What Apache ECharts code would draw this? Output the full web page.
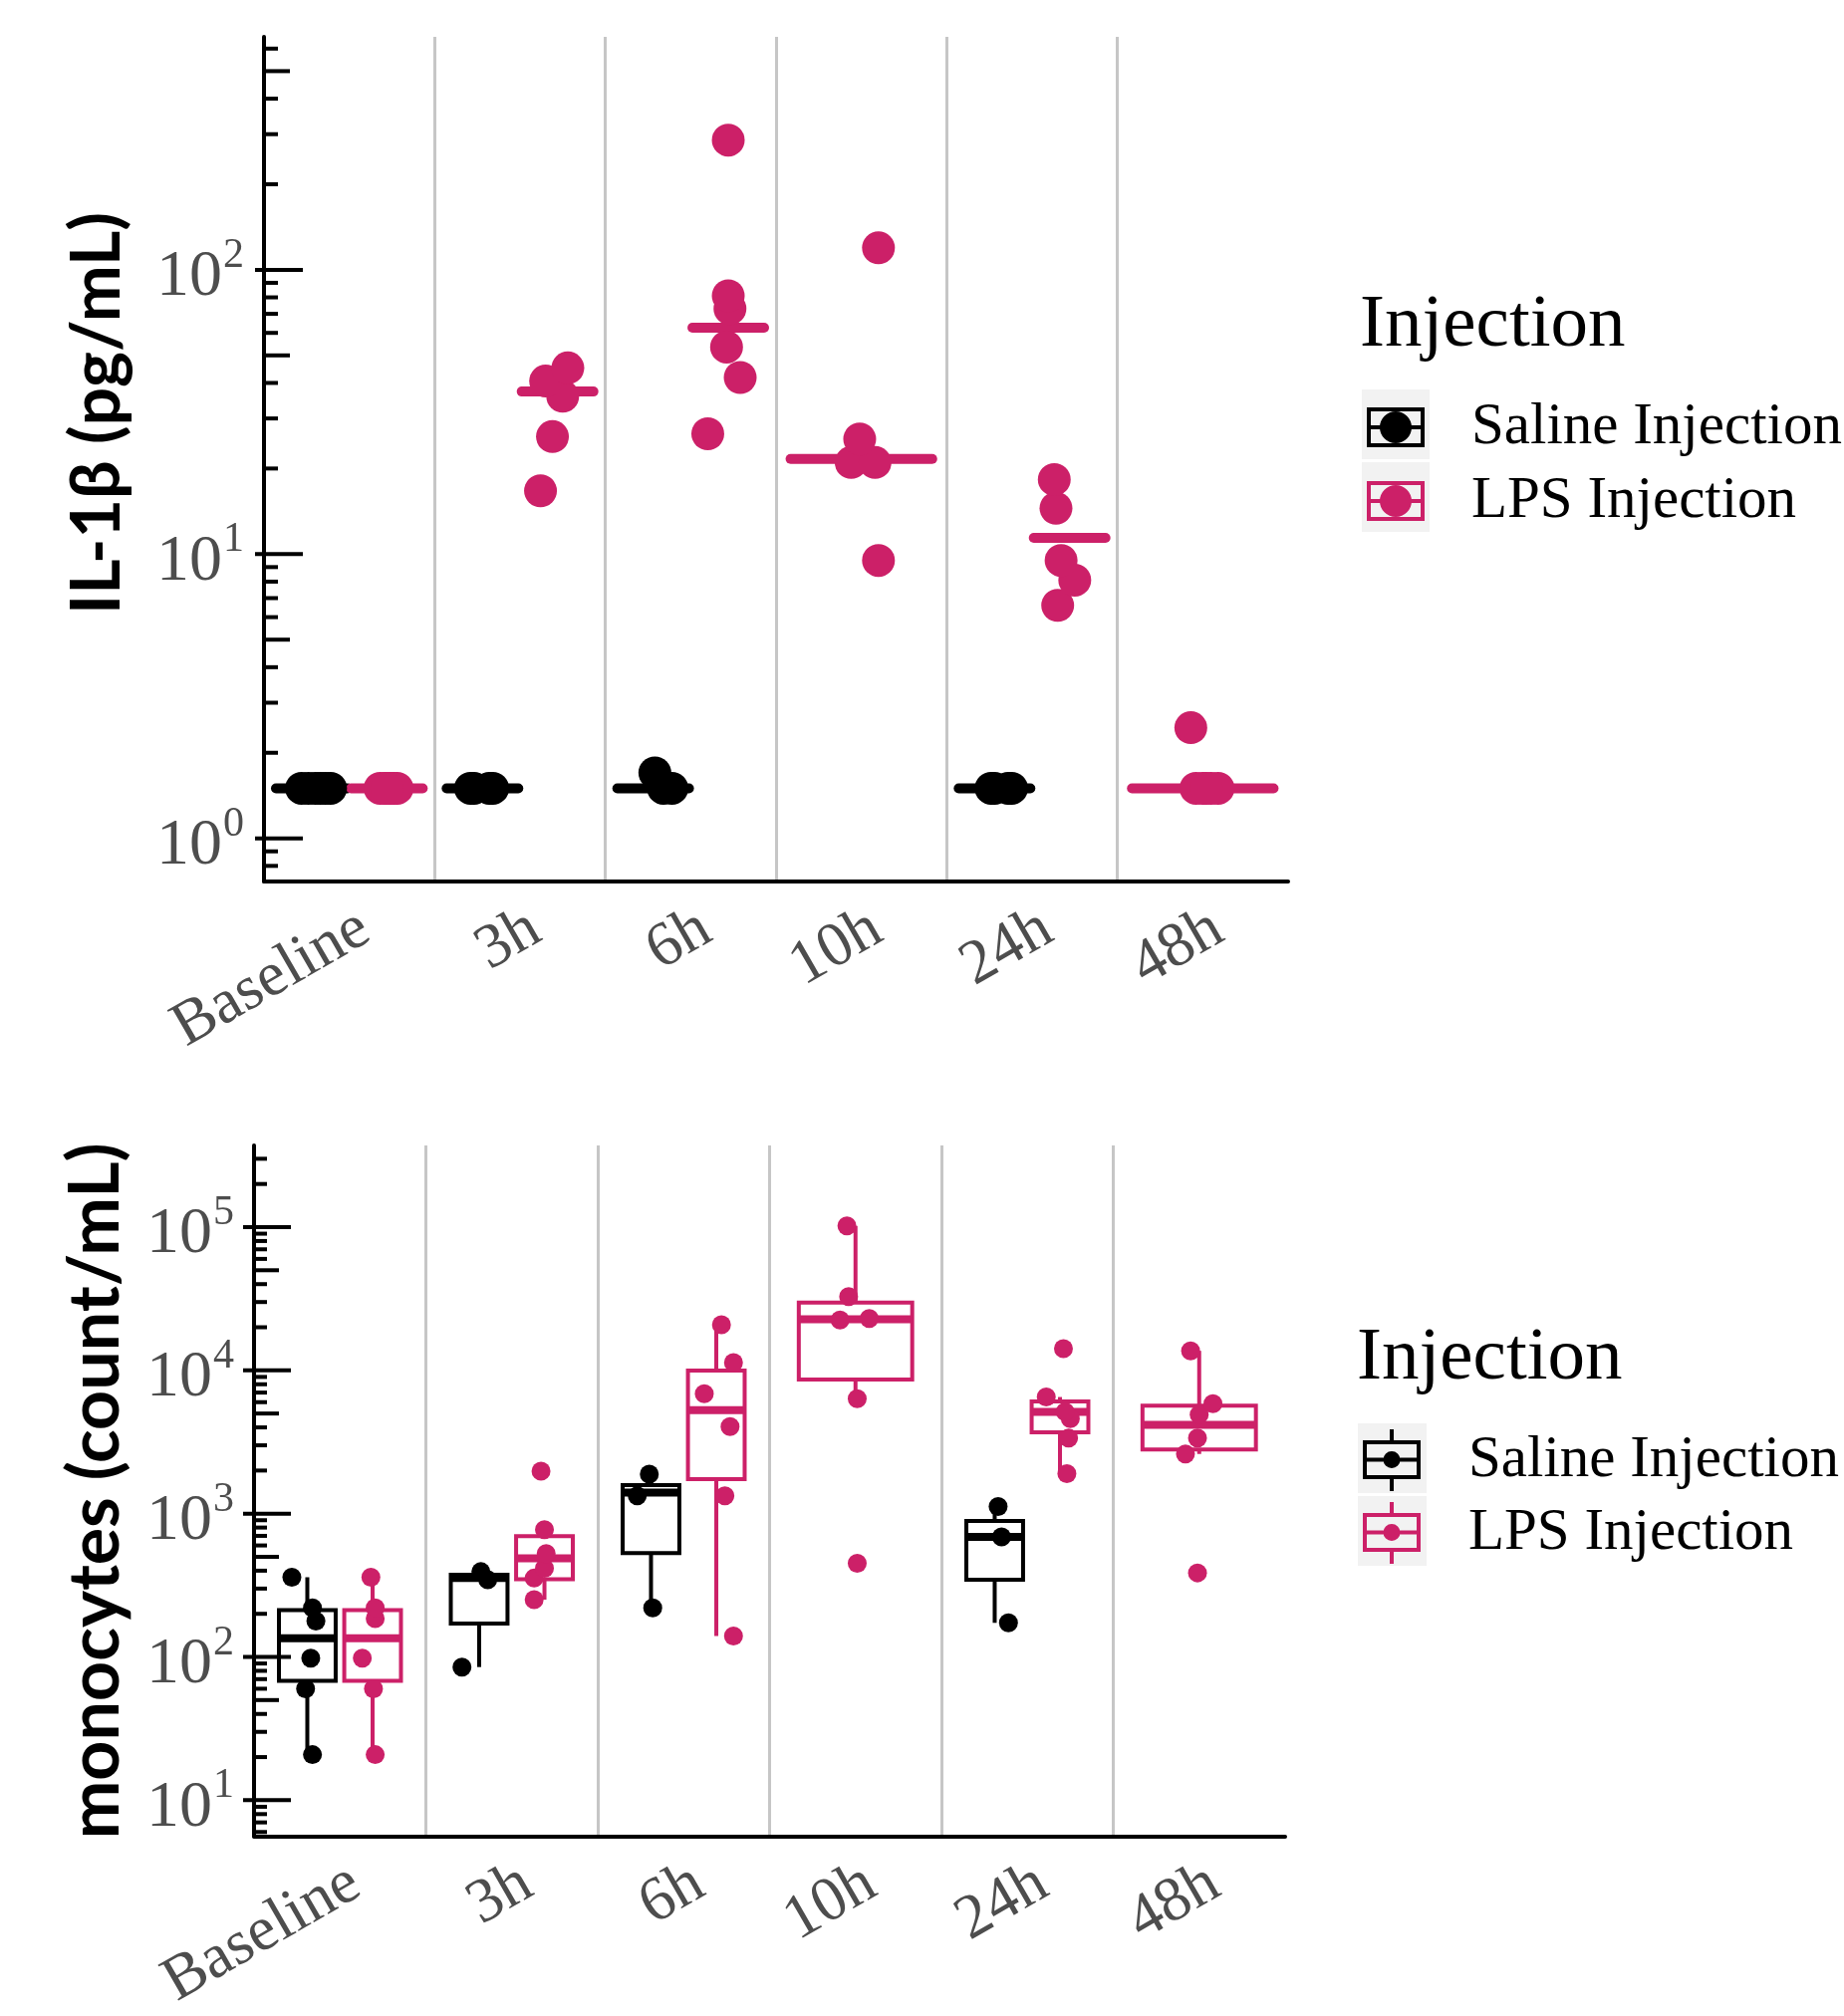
<!DOCTYPE html>
<html lang="en">
<head>
<meta charset="UTF-8">
<title>IL-1β and monocytes after injection</title>
<script src="https://cdn.jsdelivr.net/npm/echarts@6/dist/echarts.min.js"></script>
<style>
  html, body { margin: 0; padding: 0; background: #fff; }
</style>
</head>
<body>
<div id="main" style="width:1851px;height:2024px;"></div>
<script>
  const categories = ['Baseline', '3h', '6h', '10h', '24h', '48h'];
  const groups = ['Saline Injection', 'LPS Injection'];

  // IL-1β (pg/mL), one list per time point
  const ilSaline = [
    [1.5, 1.5, 1.5, 1.5, 1.5, 1.5],
    [1.5, 1.5, 1.5, 1.5],
    [1.5, 1.5, 1.7],
    [],
    [1.5, 1.5, 1.5, 1.5],
    []
  ];
  const ilSalineJitter = [
    [-0.06, -0.02, 0.02, 0.05, 0.08, 0.11],
    [-0.07, -0.05, 0.04, 0.06],
    [0.06, 0.11, 0.01],
    [],
    [-0.02, 0.0, 0.08, 0.1],
    []
  ];
  const ilLps = [
    [1.5, 1.5, 1.5, 1.5, 1.5, 1.5],
    [16.7, 25.9, 35.9, 40.6, 45.2],
    [26.5, 41.8, 53.5, 73, 81, 286],
    [9.5, 21, 21, 25.4, 119.5],
    [6.6, 8.1, 9.5, 14.5, 18.3],
    [1.5, 1.5, 1.5, 1.5, 1.5, 2.45]
  ];
  const ilLpsJitter = [
    [-0.04, -0.01, 0.02, 0.04, 0.06, 0.0],
    [-0.1, -0.03, 0.03, -0.07, 0.06],
    [-0.12, 0.07, -0.01, 0.01, 0.0, 0.0],
    [0.1, -0.06, 0.08, -0.01, 0.1],
    [-0.07, 0.03, -0.05, -0.08, -0.09],
    [-0.04, 0.0, 0.05, 0.09, 0.02, -0.07]
  ];
  const ilSalineMedian = [1.5, 1.5, 1.5, null, 1.5, null];
  const ilLpsMedian = [1.5, 37.3, 62.6, 21.6, 11.4, 1.5];

  // monocytes (count/mL)
  const moSaline = [
    [20.8, 60, 98, 178, 220, 360],
    [85, 346, 394],
    [220, 1333, 1885],
    [],
    [173, 689, 1122],
    []
  ];
  const moSalineJitter = [
    [0.03, -0.01, 0.02, 0.05, 0.03, -0.09],
    [-0.1, 0.05, 0.01],
    [0.01, -0.08, -0.01],
    [],
    [0.08, 0.04, 0.02],
    []
  ];
  const moLps = [
    [20.8, 60, 98, 185, 220, 360],
    [251, 355, 416, 527, 773, 1980],
    [140, 1334, 4050, 6870, 11350, 20800],
    [451, 6340, 22500, 23000, 32700, 102000],
    [1900, 3370, 4600, 5140, 6520, 14200],
    [386, 2610, 3370, 4920, 5860, 13700]
  ];
  const moLpsJitter = [
    [0.015, 0.005, -0.06, 0.015, 0.015, -0.01],
    [-0.06, -0.06, 0.0, 0.01, 0.0, -0.02],
    [0.1, 0.05, 0.08, -0.07, 0.1, 0.03],
    [0.01, 0.01, -0.09, 0.08, -0.04, -0.05],
    [0.04, 0.05, 0.06, 0.03, -0.08, 0.02],
    [-0.01, -0.08, -0.01, 0.0, 0.08, -0.05]
  ];
  // [lower whisker, Q1, median, Q3, upper whisker]
  const moSalineBox = [
    [20.8, 68, 135, 212, 360],
    [85, 171, 355, 374, 394],
    [220, 530, 1406, 1580, 1885],
    null,
    [173, 346, 689, 888, 1122],
    null
  ];
  const moLpsBox = [
    [20.8, 68, 135, 212, 360],
    [251, 349, 488, 698, 773],
    [140, 1740, 5270, 9960, 20800],
    [6340, 8630, 22700, 29700, 102000],
    [1900, 3700, 5140, 6080, 6520],
    [2610, 2800, 4160, 5670, 13700]
  ];

  const ilRange = [0.705, 660];
  const moRange = [5.61, 371500];

  const pink = '#cc2068';
  const labelGrey = '#4d4d4d';
  const serif = "'Liberation Serif', 'Times New Roman', serif";
  const sansBold = "Lato, 'Noto Sans', sans-serif";

  function logTicks(range) {
    const out = [];
    const e0 = Math.floor(Math.log10(range[0]));
    const e1 = Math.ceil(Math.log10(range[1]));
    for (let e = e0; e <= e1; e++) {
      for (let m = 1; m <= 9; m++) {
        const v = m * Math.pow(10, e);
        if (v >= range[0] && v <= range[1]) out.push([-0.5, v, m]);
      }
    }
    return out;
  }

  const ilPair = categories.map((c, i) => ilSaline[i].length > 0 && ilLps[i].length > 0);
  const moPair = categories.map((c, i) => moSaline[i].length > 0 && moLps[i].length > 0);

  function pointData(vals, jit, pair, side, dodge) {
    const out = [];
    vals.forEach((list, i) => {
      const c = pair[i] ? i + side * dodge : i;
      list.forEach((v, k) => out.push([c + jit[i][k], v]));
    });
    return out;
  }

  function tickSeries(xi, yi, range, lens) {
    return {
      type: 'custom', xAxisIndex: xi, yAxisIndex: yi, silent: true, clip: false, z: 6,
      data: logTicks(range),
      renderItem: (params, api) => {
        const p = api.coord([-0.5, api.value(1)]);
        const m = api.value(2);
        let inner = lens[2], outer = 0;
        if (m === 1) { inner = lens[0]; outer = lens[3]; }
        else if (m === 5) inner = lens[1];
        return {
          type: 'line',
          shape: { x1: p[0] - outer, y1: p[1], x2: p[0] + inner, y2: p[1] },
          style: { stroke: '#000', lineWidth: 4 }
        };
      }
    };
  }

  function medianSeries(name, color, medians, side) {
    const data = [];
    medians.forEach((m, i) => {
      if (m == null) return;
      data.push(ilPair[i] ? [i + side * 0.22, m, 0.21] : [i, m, 0.415]);
    });
    return {
      name, type: 'custom', xAxisIndex: 1, yAxisIndex: 0, silent: true, z: 2,
      itemStyle: { color },
      data,
      renderItem: (params, api) => {
        const c = api.value(0), hw = api.value(2);
        const a = api.coord([c - hw, api.value(1)]);
        const b = api.coord([c + hw, api.value(1)]);
        return {
          type: 'line',
          shape: { x1: a[0], y1: a[1], x2: b[0], y2: b[1] },
          style: { stroke: color, lineWidth: 10, lineCap: 'round' }
        };
      }
    };
  }

  function boxSeries(name, color, boxes, side) {
    const data = [];
    boxes.forEach((b, i) => {
      if (!b) return;
      data.push(moPair[i] ? [i + side * 0.19].concat(b, [0.165]) : [i].concat(b, [0.33]));
    });
    return {
      name, type: 'custom', xAxisIndex: 3, yAxisIndex: 1, silent: true, z: 2,
      itemStyle: { color },
      data,
      renderItem: (params, api) => {
        const c = api.value(0), hw = api.value(6);
        const lo = api.coord([c, api.value(1)]);
        const q1 = api.coord([c, api.value(2)]);
        const md = api.coord([c, api.value(3)]);
        const q3 = api.coord([c, api.value(4)]);
        const hi = api.coord([c, api.value(5)]);
        const xl = api.coord([c - hw, api.value(3)])[0];
        const xr = api.coord([c + hw, api.value(3)])[0];
        const line = { stroke: color, lineWidth: 4 };
        return {
          type: 'group',
          children: [
            { type: 'line', shape: { x1: lo[0], y1: lo[1], x2: q1[0], y2: q1[1] }, style: line },
            { type: 'line', shape: { x1: q3[0], y1: q3[1], x2: hi[0], y2: hi[1] }, style: line },
            { type: 'rect', shape: { x: xl, y: q3[1], width: xr - xl, height: q1[1] - q3[1] },
              style: { fill: 'none', stroke: color, lineWidth: 4 } },
            { type: 'line', shape: { x1: xl, y1: md[1], x2: xr, y2: md[1] },
              style: { stroke: color, lineWidth: 8 } }
          ]
        };
      }
    };
  }

  function pointSeries(name, color, xi, yi, size, data) {
    return {
      name, type: 'scatter', xAxisIndex: xi, yAxisIndex: yi, symbolSize: size, z: 3,
      silent: true, itemStyle: { color, opacity: 1 }, data
    };
  }

  function powLabel(v) {
    const l = Math.log10(v);
    const e = Math.round(l);
    if (Math.abs(l - e) > 1e-6) return '';
    return '{b|10}{s|' + e + '}';
  }

  const powRich = {
    b: { fontFamily: serif, fontSize: 66, color: labelGrey, lineHeight: 62, padding: [16, 0, 0, 0] },
    s: { fontFamily: serif, fontSize: 42, color: labelGrey, lineHeight: 40, padding: [0, 0, 28, 1] }
  };

  function catAxis(gi) {
    return {
      gridIndex: gi, type: 'category', data: categories, boundaryGap: true,
      axisLine: { onZero: false, lineStyle: { color: '#000', width: 4 } },
      axisTick: { alignWithLabel: true, length: 12, lineStyle: { color: '#000', width: 4 } },
      axisLabel: {
        interval: 0, rotate: 30, margin: 16, verticalAlign: 'top',
        fontFamily: serif, fontSize: 63, color: labelGrey
      },
      splitLine: { show: true, showMinLine: false, showMaxLine: false,
        lineStyle: { color: '#c6c6c6', width: 3 } }
    };
  }

  function logAxis(gi, range, name, gap, size, pad) {
    return {
      gridIndex: gi, type: 'log', logBase: 10, min: range[0], max: range[1],
      axisLine: { show: true, onZero: false, lineStyle: { color: '#000', width: 4 } },
      axisTick: { show: false },
      splitLine: { show: false },
      axisLabel: { margin: 20, formatter: powLabel, rich: powRich },
      name, nameLocation: 'middle', nameGap: gap,
      nameTextStyle: { fontFamily: sansBold, fontWeight: 'bold', fontSize: size, color: '#000', padding: pad }
    };
  }

  const dotIcon = 'path://M0 0H58V40H0Z M4 4V36H54V4Z M4 18H54V22H4Z M13 20A16 16 0 1 1 45 20A16 16 0 1 1 13 20Z';
  const boxIcon = 'path://M27 0H31V11H27Z M0 11H58V50H0Z M4 15V46H54V15Z M4 28.5H54V32.5H4Z M27 50H31V62H27Z ' +
    'M20.5 30.5A8.5 8.5 0 1 1 37.5 30.5A8.5 8.5 0 1 1 20.5 30.5Z';

  function legendFor(top, left, icon, iw, ih, textPad, gap) {
    return {
      orient: 'vertical', left, top, padding: 0, itemGap: gap,
      itemWidth: iw, itemHeight: ih,
      textStyle: { fontFamily: serif, fontSize: 59, color: '#000', lineHeight: 72, padding: [0, 0, 0, textPad] },
      data: [
        { name: groups[0], icon, itemStyle: { color: '#000', borderWidth: 0 } },
        { name: groups[1], icon, itemStyle: { color: pink, borderWidth: 0 } }
      ]
    };
  }

  const myChart = echarts.init(document.getElementById('main'));
  const option = {
    animation: false,
    backgroundColor: '#fff',
    title: [
      { text: 'Injection', left: 1365, top: 290, padding: 0,
        textStyle: { fontFamily: serif, fontSize: 75, fontWeight: 'normal', color: '#000' } },
      { text: 'Injection', left: 1362, top: 1327, padding: 0,
        textStyle: { fontFamily: serif, fontSize: 75, fontWeight: 'normal', color: '#000' } }
    ],
    legend: [
      legendFor(393, 1372, dotIcon, 58, 40, 42, 2),
      legendFor(1430, 1368, boxIcon, 58, 62, 43, 1)
    ],
    graphic: [
      { type: 'rect', z: 0, shape: { x: 1367, y: 391, width: 68, height: 70 }, style: { fill: '#f2f2f2' } },
      { type: 'rect', z: 0, shape: { x: 1367, y: 464, width: 68, height: 70 }, style: { fill: '#f2f2f2' } },
      { type: 'rect', z: 0, shape: { x: 1363, y: 1429, width: 69, height: 70 }, style: { fill: '#f2f2f2' } },
      { type: 'rect', z: 0, shape: { x: 1363, y: 1502, width: 69, height: 70 }, style: { fill: '#f2f2f2' } }
    ],
    grid: [
      { left: 265, top: 37, width: 1028, height: 848 },
      { left: 255, top: 1150, width: 1035, height: 700 }
    ],
    xAxis: [
      catAxis(0),
      { gridIndex: 0, type: 'value', min: -0.5, max: 5.5, show: false },
      catAxis(1),
      { gridIndex: 1, type: 'value', min: -0.5, max: 5.5, show: false }
    ],
    yAxis: [
      logAxis(0, ilRange, 'IL-1β (pg/mL)', 133, 68, [0, 0, 0, 92]),
      logAxis(1, moRange, 'monocytes (count/mL)', 124, 70, 0)
    ],
    series: [
      tickSeries(1, 0, ilRange, [39, 26, 14, 9]),
      tickSeries(3, 1, moRange, [37, 25, 13, 11]),
      medianSeries(groups[0], '#000', ilSalineMedian, -1),
      medianSeries(groups[1], pink, ilLpsMedian, 1),
      pointSeries(groups[0], '#000', 1, 0, 33, pointData(ilSaline, ilSalineJitter, ilPair, -1, 0.22)),
      pointSeries(groups[1], pink, 1, 0, 33, pointData(ilLps, ilLpsJitter, ilPair, 1, 0.22)),
      boxSeries(groups[0], '#000', moSalineBox, -1),
      boxSeries(groups[1], pink, moLpsBox, 1),
      pointSeries(groups[0], '#000', 3, 1, 19, pointData(moSaline, moSalineJitter, moPair, -1, 0.19)),
      pointSeries(groups[1], pink, 3, 1, 19, pointData(moLps, moLpsJitter, moPair, 1, 0.19))
    ]
  };
  myChart.setOption(option);
</script>
</body>
</html>
